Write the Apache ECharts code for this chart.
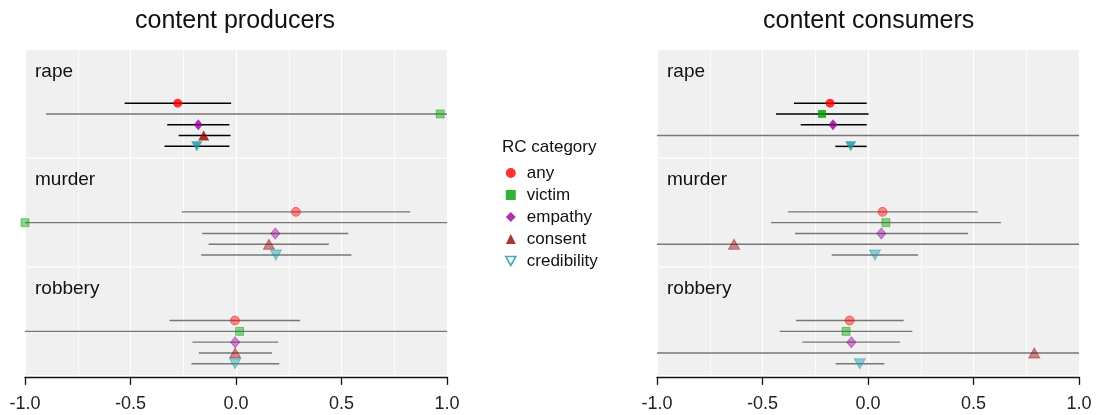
<!DOCTYPE html>
<html><head><meta charset="utf-8">
<script src="https://cdn.jsdelivr.net/npm/echarts@6/dist/echarts.min.js"></script>
<style>html,body{margin:0;padding:0;background:#fff}#c{width:1098px;height:415px}</style>
</head><body><div id="c"></div>
<script>
// ---------------- data ----------------
const panels = ['content producers', 'content consumers'];
const crimes = ['rape', 'murder', 'robbery'];
const categories = ['any', 'victim', 'empathy', 'consent', 'credibility'];
const xTicks = [-1, -0.5, 0, 0.5, 1];

// content producers: one row per crime, one column per category
const prodEst = [
  [-0.276, 0.968, -0.179, -0.153, -0.186],
  [0.284, -1.0, 0.186, 0.156, 0.189],
  [-0.005, 0.017, -0.004, -0.004, -0.004]
];
const prodLo = [
  [-0.528, -0.90, -0.326, -0.272, -0.339],
  [-0.257, -Infinity, -0.160, -0.130, -0.165],
  [-0.315, -Infinity, -0.206, -0.176, -0.211]
];
const prodHi = [
  [-0.023, Infinity, -0.031, -0.026, -0.031],
  [0.826, Infinity, 0.532, 0.440, 0.547],
  [0.304, Infinity, 0.200, 0.170, 0.205]
];
const prodSig = [[1, 0, 1, 1, 1], [0, 0, 0, 0, 0], [0, 0, 0, 0, 0]];

// content consumers
const consEst = [
  [-0.180, -0.218, -0.166, null, -0.082],
  [0.069, 0.085, 0.063, -0.635, 0.033],
  [-0.087, -0.104, -0.079, 0.788, -0.039]
];
const consLo = [
  [-0.351, -0.436, -0.319, -Infinity, -0.155],
  [-0.379, -0.460, -0.346, -Infinity, -0.172],
  [-0.341, -0.418, -0.311, -Infinity, -0.153]
];
const consHi = [
  [-0.006, 0.003, -0.006, Infinity, -0.006],
  [0.520, 0.630, 0.474, Infinity, 0.237],
  [0.169, 0.210, 0.152, Infinity, 0.077]
];
const consSig = [[1, 1, 1, 0, 1], [0, 0, 0, 0, 0], [0, 0, 0, 0, 0]];

// ---------------- styling / layout ----------------
const FONT = '"Liberation Sans", Arial, sans-serif';
const COLORS = ['#ff0000', '#00a000', '#990099', '#990000', '#1598a6'];
const SYMBOLS = ['circle', 'rect', 'diamond', 'triangle', 'triangle'];
const ROTATE = [0, 0, 0, 0, 180];
const SIZES = [9, 8, [9, 11], [11, 10], [11, 10]];
const XMIN = -1, XMAX = 1;
const PANEL_LEFT = [25, 657];
const PANEL_W = 422;
const FACET_TOP = [50, 158.7, 267.4];
const FACET_H = 107.5;
const YMIN = -4.92, YMAX = 5.03;

function rgba(hex, a) {
  const n = parseInt(hex.slice(1), 16);
  return 'rgba(' + ((n >> 16) & 255) + ',' + ((n >> 8) & 255) + ',' + (n & 255) + ',' + a + ')';
}

const est = [prodEst, consEst], lo = [prodLo, consLo], hi = [prodHi, consHi], sig = [prodSig, consSig];

const grids = [], xAxes = [], yAxes = [], series = [];
const titles = [
  { text: panels[0], left: 135, top: 9, padding: 0, textStyle: { fontSize: 25, fontWeight: 'normal', color: '#111', fontFamily: FONT } },
  { text: panels[1], left: 763, top: 9, padding: 0, textStyle: { fontSize: 25, fontWeight: 'normal', color: '#111', fontFamily: FONT } },
  { text: 'RC category', left: 502, top: 139, padding: 0, textStyle: { fontSize: 17, fontWeight: 'normal', color: '#111', fontFamily: FONT } }
];

let gi = 0;
for (let p = 0; p < 2; p++) {
  for (let f = 0; f < 3; f++) {
    const bottomFacet = f === 2;
    grids.push({ left: PANEL_LEFT[p], top: FACET_TOP[f], width: PANEL_W, height: FACET_H,
      show: true, backgroundColor: '#f0f0f0', borderWidth: 0 });
    xAxes.push({
      type: 'value', gridIndex: gi, min: XMIN, max: XMAX, interval: 0.5, offset: 2,
      splitLine: { show: true, lineStyle: { color: '#ffffff', width: 1.3 } },
      minorTick: { show: false, splitNumber: 2 },
      minorSplitLine: { show: true, lineStyle: { color: '#ffffff', width: 0.8 } },
      axisLine: { show: bottomFacet, onZero: false, lineStyle: { color: '#111', width: 1.3 } },
      axisTick: { show: bottomFacet, length: 8, lineStyle: { color: '#111', width: 1.3 } },
      axisLabel: { show: bottomFacet, margin: 18, fontSize: 18, color: '#222', fontFamily: FONT,
        formatter: v => (xTicks.indexOf(v) >= 0 ? v.toFixed(1) : '') }
    });
    yAxes.push({ type: 'value', gridIndex: gi, min: YMIN, max: YMAX, inverse: true, show: false });
    titles.push({ text: crimes[f], left: PANEL_LEFT[p] + 10, top: FACET_TOP[f] + 12, padding: 0,
      textStyle: { fontSize: 19, fontWeight: 'normal', color: '#111', fontFamily: FONT } });

    // error bars
    const barData = categories.map((c, i) => [lo[p][f][i], hi[p][f][i], i, sig[p][f][i]]);
    series.push({
      type: 'custom', xAxisIndex: gi, yAxisIndex: gi, z: 2, silent: true,
      data: barData,
      encode: { x: [0, 1], y: 2 },
      renderItem: function (params, api) {
        const a = Math.max(api.value(0), XMIN), b = Math.min(api.value(1), XMAX), r = api.value(2), s = api.value(3);
        const p1 = api.coord([a, r]), p2 = api.coord([b, r]);
        return { type: 'line', shape: { x1: p1[0], y1: p1[1], x2: p2[0], y2: p2[1] },
          style: { stroke: s ? '#000000' : '#777777', lineWidth: s ? 1.5 : 1.4 } };
      }
    });
    // points
    categories.forEach((c, i) => {
      const v = est[p][f][i];
      const data = [];
      if (v !== null) {
        const s = sig[p][f][i];
        data.push({ value: [v, i], itemStyle: s ? { color: COLORS[i] } :
          { color: rgba(COLORS[i], 0.55), borderColor: rgba(COLORS[i], 0.55), borderWidth: 1 } });
      }
      series.push({ type: 'scatter', name: c, xAxisIndex: gi, yAxisIndex: gi, z: 3, silent: true,
        symbol: SYMBOLS[i], symbolSize: SIZES[i], symbolRotate: ROTATE[i],
        itemStyle: { color: COLORS[i] }, data: data });
    });
    gi++;
  }
}

const legendData = categories.map((c, i) => {
  if (i === 4) return { name: c, icon: 'path://M0,0L10,0L5,9Z',
    itemStyle: { color: 'rgba(0,0,0,0)', borderColor: COLORS[i], borderWidth: 1.6 } };
  return { name: c, icon: SYMBOLS[i], itemStyle: { color: COLORS[i] } };
});

const chart = echarts.init(document.getElementById('c'), null, { renderer: 'canvas' });
chart.setOption({
  animation: false,
  backgroundColor: '#ffffff',
  title: titles,
  legend: { data: legendData, orient: 'vertical', left: 505, top: 164, padding: 0, itemWidth: 10, itemHeight: 10,
    itemGap: 4, selectedMode: false,
    textStyle: { fontSize: 17, color: '#111', fontFamily: FONT, lineHeight: 18, padding: [0, 0, 0, 6] } },
  grid: grids, xAxis: xAxes, yAxis: yAxes, series: series
});
</script></body></html>
